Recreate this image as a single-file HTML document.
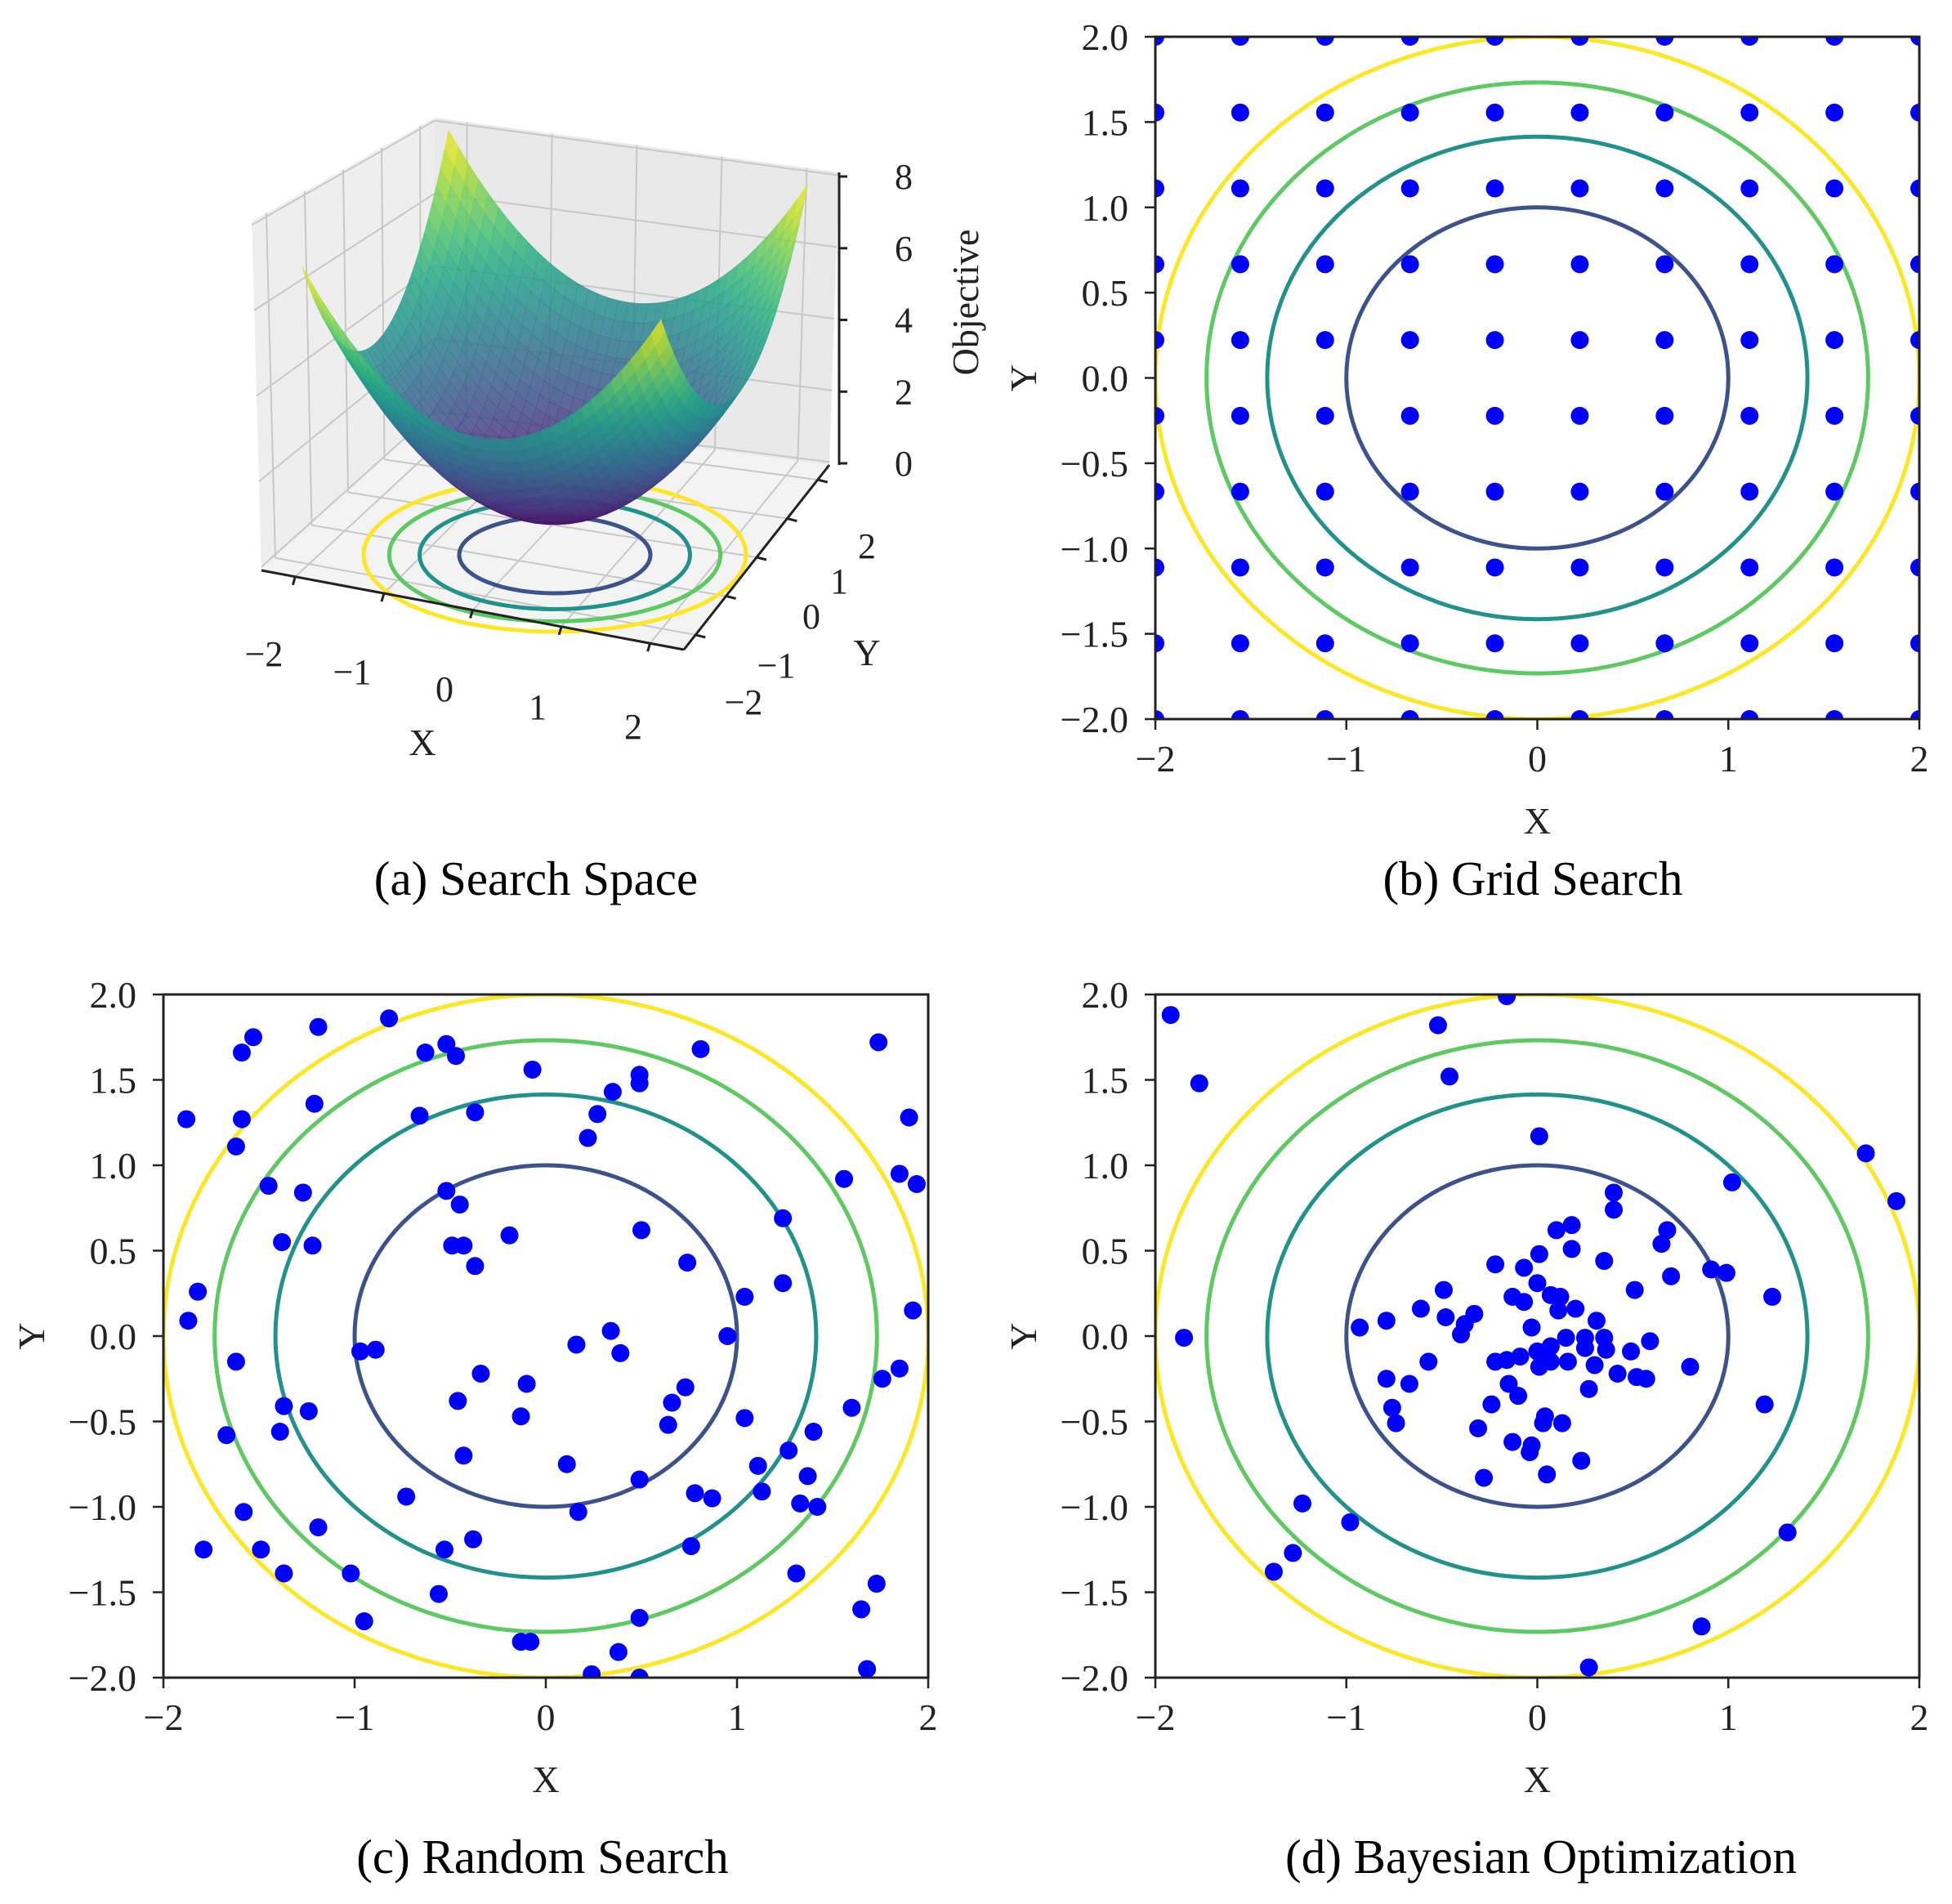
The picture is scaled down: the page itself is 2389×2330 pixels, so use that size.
<!DOCTYPE html>
<html><head><meta charset="utf-8"><style>
html,body{margin:0;padding:0;background:#fff;}
svg{display:block;font-family:"Liberation Serif",serif;}
</style></head><body>
<svg id="fig" width="2389" height="2330" viewBox="0 0 2389 2330" xmlns="http://www.w3.org/2000/svg">
<defs>
<clipPath id="clipB"><rect x="1414" y="45" width="935" height="835"/></clipPath>
<clipPath id="clipC"><rect x="200" y="1217" width="936" height="836"/></clipPath>
<clipPath id="clipD"><rect x="1414" y="1217" width="935" height="836"/></clipPath>
</defs>
<g id="panelA"></g>
<g id="panelB"></g>
<g id="panelC"></g>
<g id="panelD"></g>
<text x="656" y="1095" font-size="59" text-anchor="middle">(a) Search Space</text>
<text x="1876" y="1095" font-size="59" text-anchor="middle">(b) Grid Search</text>
<text x="664" y="2292" font-size="59" text-anchor="middle">(c) Random Search</text>
<text x="1886" y="2292" font-size="59" text-anchor="middle">(d) Bayesian Optimization</text>
</svg>
<script>
// ---- data ----
const contourLevels = [1, 2, 3, 4];           // objective values x^2+y^2
const contourColors = ["#3b528b", "#21918c", "#5ec962", "#fde725"];
const xTicks2d = [-2, -1, 0, 1, 2];
const yTicks2d = [-2.0, -1.5, -1.0, -0.5, 0.0, 0.5, 1.0, 1.5, 2.0];
const gridValues = [-2, -1.5556, -1.1111, -0.6667, -0.2222, 0.2222, 0.6667, 1.1111, 1.5556, 2];
const randomX = [-1.88,-1.87,-1.82,-1.79,-1.67,-1.62,-1.62,-1.59,-1.59,-1.58,-1.53,-1.49,-1.45,-1.39,-1.38,-1.37,-1.37,-1.27,-1.24,-1.22,-1.21,-1.19,-1.19,-1.02,-0.97,-0.95,-0.89,-0.82,-0.73,-0.66,-0.63,-0.56,-0.53,-0.52,-0.52,-0.49,-0.47,-0.46,-0.45,-0.43,-0.43,-0.38,-0.37,-0.37,-0.34,-0.19,-0.13,-0.13,-0.10,-0.08,-0.07,0.11,0.16,0.17,0.22,0.24,0.27,0.34,0.35,0.38,0.39,0.49,0.49,0.49,0.49,0.49,0.50,0.64,0.66,0.73,0.74,0.76,0.78,0.81,0.87,0.95,1.04,1.04,1.11,1.13,1.24,1.24,1.27,1.31,1.33,1.37,1.40,1.42,1.56,1.60,1.65,1.68,1.73,1.74,1.76,1.85,1.85,1.90,1.92,1.94];
const randomY = [1.27,0.09,0.26,-1.25,-0.58,-0.15,1.11,1.66,1.27,-1.03,1.75,-1.25,0.88,-0.56,0.55,-0.41,-1.39,0.84,-0.44,0.53,1.36,1.81,-1.12,-1.39,-0.09,-1.67,-0.08,1.86,-0.94,1.29,1.66,-1.51,-1.25,1.71,0.85,0.53,1.64,-0.38,0.77,0.53,-0.70,-1.19,1.31,0.41,-0.22,0.59,-0.47,-1.79,-0.28,-1.79,1.56,-0.75,-0.05,-1.03,1.16,-1.98,1.30,0.03,1.43,-1.85,-0.10,1.53,1.48,-0.84,-1.65,-2.0,0.62,-0.52,-0.39,-0.30,0.43,-1.23,-0.92,1.68,-0.95,0.0,0.23,-0.48,-0.76,-0.91,0.69,0.31,-0.67,-1.39,-0.98,-0.82,-0.56,-1.00,0.92,-0.42,-1.60,-1.95,-1.45,1.72,-0.25,0.95,-0.19,1.28,0.15,0.89];
const bayesX = [-1.92,-1.77,-1.85,-0.52,-0.46,-0.16,0.01,1.72,1.88,1.02,0.40,0.40,0.10,0.18,0.18,0.68,0.65,0.01,-0.22,-0.07,0.35,0.70,0.91,0.99,1.23,0.0,-0.49,-0.13,-0.07,0.07,0.12,0.11,0.20,0.51,-0.61,-0.79,-0.93,-0.48,-0.33,-0.38,-0.40,0.31,-0.03,0.15,0.25,0.35,0.25,0.36,0.59,0.49,-0.22,-0.16,-0.09,0.0,0.07,0.01,0.07,0.16,0.30,0.42,0.52,0.57,0.80,-0.57,-0.79,-0.67,-0.15,-0.10,-0.24,0.27,-0.76,-0.74,-0.31,0.04,0.03,0.13,-0.13,-0.03,-0.04,0.23,-0.28,0.05,1.19,-1.23,-0.98,-1.28,-1.38,1.31,0.86,0.27];
const bayesY = [1.88,1.48,-0.01,1.82,1.52,1.99,1.17,1.07,0.79,0.90,0.84,0.74,0.62,0.65,0.51,0.62,0.54,0.48,0.42,0.40,0.44,0.35,0.39,0.37,0.23,0.31,0.27,0.23,0.20,0.24,0.23,0.15,0.16,0.27,0.16,0.09,0.05,0.11,0.13,0.07,0.01,0.09,0.05,-0.01,-0.01,-0.01,-0.07,-0.08,-0.03,-0.09,-0.15,-0.14,-0.12,-0.09,-0.06,-0.18,-0.15,-0.15,-0.17,-0.22,-0.24,-0.25,-0.18,-0.15,-0.25,-0.28,-0.28,-0.35,-0.40,-0.31,-0.42,-0.51,-0.54,-0.47,-0.51,-0.51,-0.62,-0.64,-0.68,-0.73,-0.83,-0.81,-0.40,-0.98,-1.09,-1.27,-1.38,-1.15,-1.70,-1.94];
const xTicks3d = [-2, -1, 0, 1, 2];
const yTicks3d = [-2, -1, 0, 1, 2];
const zTicks3d = [0, 2, 4, 6, 8];

const NS = "http://www.w3.org/2000/svg";
function mk(tag, attrs, parent) {
  const e = document.createElementNS(NS, tag);
  for (const k in attrs) e.setAttribute(k, attrs[k]);
  parent.appendChild(e);
  return e;
}
function fmt(v, d) { const s = Math.abs(v).toFixed(d); return (v < 0 ? "\u2212" : "") + s; }

const viridisStops = ["#440154","#482475","#414487","#355f8d","#2a788e","#21918c","#22a884","#44bf70","#7ad151","#bddf26","#fde725"];
function hex2rgb(h){return [parseInt(h.substr(1,2),16),parseInt(h.substr(3,2),16),parseInt(h.substr(5,2),16)];}
function viridis(t){
  t = Math.max(0, Math.min(1, t));
  const p = t * 10, i = Math.min(9, Math.floor(p)), f = p - i;
  const a = hex2rgb(viridisStops[i]), b = hex2rgb(viridisStops[i+1]);
  return "rgb(" + a.map((v,k)=>Math.round(v+(b[k]-v)*f)).join(",") + ")";
}

// ---- 2D panels ----
function panel2d(gid, L, T, R, B, clipId, xs, ys, yLabelX) {
  const g = document.getElementById(gid);
  const sx = v => L + (v + 2) / 4 * (R - L);
  const sy = v => B - (v + 2) / 4 * (B - T);
  const cg = mk("g", {"clip-path": "url(#" + clipId + ")"}, g);
  
  
  contourLevels.forEach((lv, i) => {
    const r = Math.sqrt(lv);
    const el = mk("ellipse", {cx: sx(0), cy: sy(0), rx: sx(r) - sx(0), ry: sy(0) - sy(r), fill: "none", stroke: contourColors[i], "stroke-width": 5}, cg);
    
    
  });
  for (let i = 0; i < xs.length; i++) {
    const c = mk("circle", {cx: sx(xs[i]), cy: sy(ys[i]), r: 11, fill: "#0000ff"}, cg);
    
    
  }
  const fr = mk("rect", {x: L, y: T, width: R - L, height: B - T, fill: "none", stroke: "#222", "stroke-width": 3}, g);
  
  
  xTicks2d.forEach(v => {
    const x = sx(v);
    const t = mk("line", {x1: x, y1: B, x2: x, y2: B + 13, stroke: "#222", "stroke-width": 2.5}, g);
    
    
    const tx = mk("text", {x: x, y: B + 64, "font-size": 46, "text-anchor": "middle", fill: "#222"}, g);
    tx.textContent = fmt(v, 0);
    
    
  });
  yTicks2d.forEach(v => {
    const y = sy(v);
    const t = mk("line", {x1: L - 13, y1: y, x2: L, y2: y, stroke: "#222", "stroke-width": 2.5}, g);
    
    
    const tx = mk("text", {x: L - 33, y: y + 16, "font-size": 46, "text-anchor": "end", fill: "#222"}, g);
    tx.textContent = fmt(v, 1);
    
    
  });
  const xl = mk("text", {x: (L + R) / 2, y: B + 140, "font-size": 46, "text-anchor": "middle", fill: "#222"}, g);
  xl.textContent = "X";
  
  
  const yc = (T + B) / 2;
  const yl = mk("text", {x: yLabelX, y: yc, "font-size": 46, "text-anchor": "middle", fill: "#222", transform: "rotate(-90 " + yLabelX + " " + yc + ")"}, g);
  yl.textContent = "Y";
  
  
}
const gx = [], gy = [];
gridValues.forEach(a => gridValues.forEach(b => { gx.push(a); gy.push(b); }));
panel2d("panelB", 1414, 45, 2349, 880, "clipB", gx, gy, 1268);
panel2d("panelC", 200, 1217, 1136, 2053, "clipC", randomX, randomY, 54);
panel2d("panelD", 1414, 1217, 2349, 2053, "clipD", bayesX, bayesY, 1268);

// ---- 3D panel ----
(function(){
  const g = document.getElementById("panelA");
  const C0 = [679, 631], ex = [110, 16.4], ey = [45, -41.5], kz = 44.5;
  const P = (x, y, z) => [C0[0] + ex[0]*x + ey[0]*y, C0[1] + ex[1]*x + ey[1]*y - kz*z];
  const FL=[320,698], FR=[837,795], BR=[1015,569], BL=[532,507];
  const BLt=[532,144], BRt=[1027,211], FLt=[308,271];
  const lerp=(a,b,t)=>[a[0]+(b[0]-a[0])*t, a[1]+(b[1]-a[1])*t];
  const poly=(pts,fill,name)=>{const e=mk("polygon",{points:pts.map(p=>p.join(",")).join(" "),fill:fill},g);return e;};
  poly([FLt,BLt,BL,FL],"#eeeeee","left-pane");
  poly([BLt,BRt,BR,BL],"#e9e9e9","back-pane");
  poly([FL,BL,BR,FR],"#f3f3f3","floor-pane");
  const gl=(a,b,name)=>{const e=mk("line",{x1:a[0],y1:a[1],x2:b[0],y2:b[1],stroke:"#c8c8c8","stroke-width":2},g);};
  const fr=[0.08,0.29,0.5,0.71,0.92];
  const zf=[0.01,0.255,0.5,0.745,0.99];
  fr.forEach(t=>{
    gl(lerp(FL,FR,t),lerp(BL,BR,t),"floor-grid-x");
    gl(lerp(FL,BL,t),lerp(FR,BR,t),"floor-grid-y");
    gl(lerp(BL,BR,t),lerp(BLt,BRt,t),"back-grid-x");
    gl(lerp(FL,BL,t),lerp(FLt,BLt,t),"left-grid-y");
  });
  zf.forEach(t=>{
    gl(lerp(BL,BLt,t),lerp(BR,BRt,t),"back-grid-z");
    gl(lerp(FL,FLt,t),lerp(BL,BLt,t),"left-grid-z");
  });
  contourLevels.forEach((lv,i)=>{
    const r=Math.sqrt(lv);
    const e=mk("ellipse",{cx:679,cy:679,rx:117*r,ry:47*r,fill:"none",stroke:contourColors[i],"stroke-width":5},g);
    
    
  });
  const N=36, quads=[];
  for(let i=0;i<N;i++)for(let j=0;j<N;j++){
    const x0=-2+4*i/N,x1=-2+4*(i+1)/N,y0=-2+4*j/N,y1=-2+4*(j+1)/N;
    const f=(x,y)=>x*x+y*y;
    const pts=[P(x0,y0,f(x0,y0)),P(x1,y0,f(x1,y0)),P(x1,y1,f(x1,y1)),P(x0,y1,f(x0,y1))];
    const xc=(x0+x1)/2,yc=(y0+y1)/2;
    quads.push({pts,z:f(xc,yc),d:-0.35*xc+yc});
  }
  quads.sort((a,b)=>b.d-a.d);
  const sg=mk("g",{},g);
  
  
  quads.forEach(q=>{
    const c=viridis(q.z/8);
    const e=mk("polygon",{points:q.pts.map(p=>p[0].toFixed(1)+","+p[1].toFixed(1)).join(" "),fill:c,"fill-opacity":0.82,stroke:c,"stroke-opacity":0.5,"stroke-width":0.6},sg);
    
    
  });
  const al=(a,b,name)=>{const e=mk("line",{x1:a[0],y1:a[1],x2:b[0],y2:b[1],stroke:"#222","stroke-width":3},g);};
  al(FL,FR,"x-axis-line"); al(FR,BR,"y-axis-line"); al([1027,569],[1027,211],"z-axis-line");
  const xLab=[[323,815],[431,837],[544,858],[658,880],[775,904]];
  xTicks3d.forEach((v,i)=>{
    const p=lerp(FL,FR,fr[i]);
    al(p,[p[0]-3,p[1]+10],"x-tick");
    const t=mk("text",{x:xLab[i][0],y:xLab[i][1],"font-size":44,"text-anchor":"middle",fill:"#222"},g);
    t.textContent=fmt(v,0);
    
    
  });
  const yLab=[[910,874],[950,829],[993,769],[1027,726],[1061,683]];
  yTicks3d.forEach((v,i)=>{
    const p=lerp(FR,BR,fr[i]);
    al(p,[p[0]+12,p[1]+3],"y-tick");
    const t=mk("text",{x:yLab[i][0],y:yLab[i][1],"font-size":44,"text-anchor":"middle",fill:"#222"},g);
    t.textContent=fmt(v,0);
    
    
  });
  zTicks3d.forEach((v,i)=>{
    const y=567-(567-216)*v/8;
    al([1027,y],[1037,y],"z-tick");
    const t=mk("text",{x:1106,y:y+15,"font-size":44,"text-anchor":"middle",fill:"#222"},g);
    t.textContent=String(v);
    
    
  });
  const lab=(txt,x,y,rot,name)=>{const t=mk("text",{x:x,y:y,"font-size":46,"text-anchor":"middle",fill:"#222"},g);if(rot)t.setAttribute("transform","rotate(-90 "+x+" "+y+")");t.textContent=txt;};
  lab("X",517,924,false,"x-axis-title");
  lab("Y",1061,814,false,"y-axis-title");
  lab("Objective",1197,370,true,"z-axis-title");
})();
</script>
</body></html>
